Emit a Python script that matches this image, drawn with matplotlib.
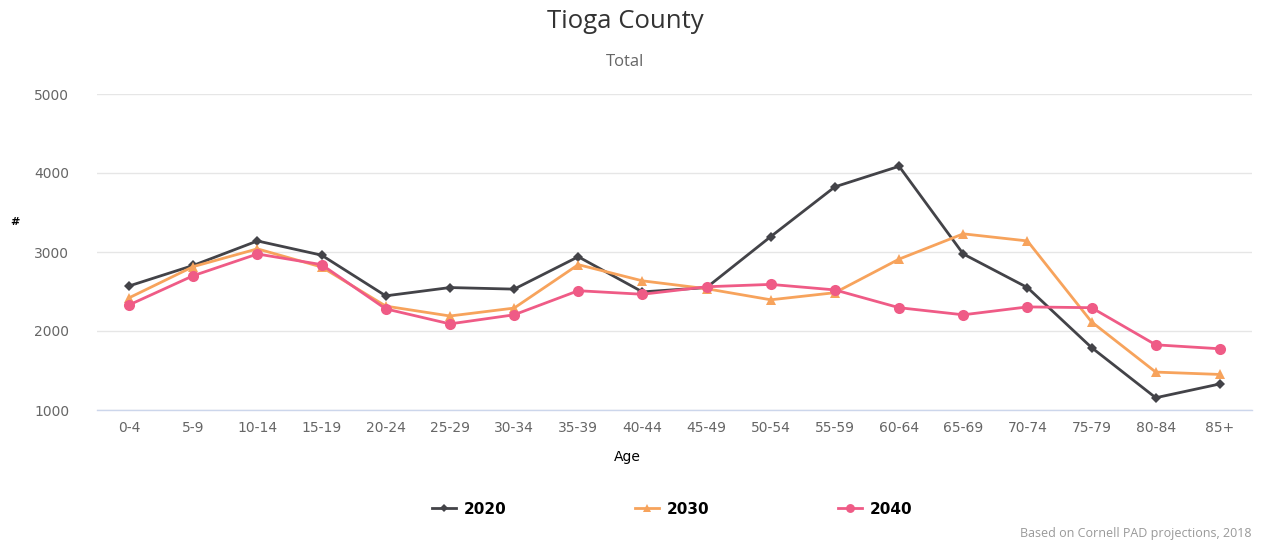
import matplotlib
matplotlib.use("Agg")
import matplotlib.pyplot as plt
from matplotlib.lines import Line2D

categories = ["0-4", "5-9", "10-14", "15-19", "20-24", "25-29", "30-34", "35-39",
              "40-44", "45-49", "50-54", "55-59", "60-64", "65-69", "70-74",
              "75-79", "80-84", "85+"]
y2020 = [2570, 2830, 3140, 2960, 2445, 2550, 2530, 2940, 2495, 2550, 3195,
         3825, 4085, 2975, 2550, 1790, 1155, 1330]
y2030 = [2420, 2815, 3040, 2810, 2315, 2190, 2290, 2840, 2635, 2535, 2395,
         2485, 2910, 3230, 3140, 2115, 1480, 1450]
y2040 = [2330, 2700, 2975, 2840, 2280, 2090, 2205, 2510, 2465, 2560, 2590,
         2520, 2295, 2205, 2305, 2295, 1825, 1775]
series_names = ["2020", "2030", "2040"]
yticks = [1000, 2000, 3000, 4000, 5000]

colors = ["#434348", "#f7a35c", "#ef5b86"]
markers = ["D", "^", "o"]
msizes = [5.5, 7, 8]

W, H = 1262, 541
fig = plt.figure(figsize=(W / 100, H / 100), dpi=100)
ax = fig.add_axes([97 / W, 1 - 410 / H, (1252 - 97) / W, (410 - 94) / H])

x = list(range(len(categories)))
for vals, c, m, ms in zip([y2020, y2030, y2040], colors, markers, msizes):
    ax.plot(x, vals, color=c, lw=2, marker=m, markersize=ms,
            markeredgewidth=0, zorder=3)

ax.set_xlim(-0.5, len(categories) - 0.5)
ax.set_ylim(1000, 5000)
ax.set_yticks(yticks)
ax.set_yticklabels([str(v) for v in yticks])
ax.set_xticks(x)
ax.set_xticklabels(categories)
ax.grid(axis="y", color="#e6e6e6", lw=1)
ax.set_axisbelow(True)
for s in ["top", "right", "left"]:
    ax.spines[s].set_visible(False)
ax.spines["bottom"].set_color("#ccd6eb")
ax.spines["bottom"].set_linewidth(1)
ax.tick_params(axis="y", length=0, pad=20, labelsize=10, labelcolor="#666666")
ax.tick_params(axis="x", length=0, pad=8, labelsize=10, labelcolor="#666666")

fig.text(15 / W, 1 - 222 / H, "#", ha="center", va="center", fontsize=8,
         fontweight="bold", color="#000000")
fig.text(627 / W, 1 - 457 / H, "Age", ha="center", va="center",
         fontsize=10, color="#000000")
fig.text(625 / W, 1 - 21 / H, "Tioga County", ha="center", va="center",
         fontsize=18.5, color="#333333", family="Open Sans")
fig.text(625 / W, 1 - 62 / H, "Total", ha="center", va="center",
         fontsize=12, color="#666666", family="Open Sans")
fig.text(1252 / W, 1 - 534 / H, "Based on Cornell PAD projections, 2018",
         ha="right", va="center", fontsize=9, color="#999999", family="Open Sans")

handles = [Line2D([], [], color=c, lw=2, marker=m, markersize=ms * 0.8,
                  markeredgewidth=0) for c, m, ms in zip(colors, markers, msizes)]
fig.legend(handles, series_names, loc="center", bbox_to_anchor=(672 / W, 1 - 509 / H),
           ncol=3, frameon=False, handlelength=1.6, handletextpad=0.5,
           columnspacing=8.4, prop={"weight": "bold", "size": 11})

fig.savefig("out.png", dpi=100)
